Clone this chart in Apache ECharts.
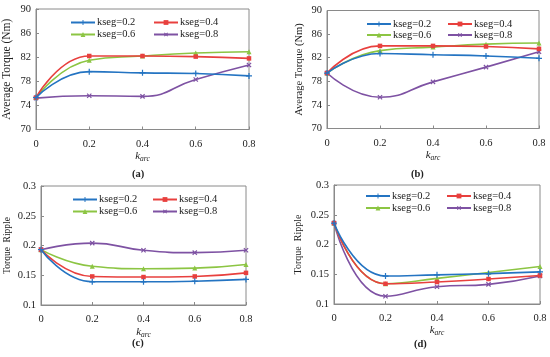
<!DOCTYPE html>
<html><head><meta charset="utf-8">
<script src="https://cdn.jsdelivr.net/npm/echarts@6/dist/echarts.min.js"></script>
<style>html,body{margin:0;padding:0;background:#fff}#c{width:550px;height:357px}</style>
</head><body><div id="c"></div>
<script>
const karc = [0, 0.2, 0.4, 0.6, 0.8];
const seriesNames = ['kseg=0.2', 'kseg=0.4', 'kseg=0.6', 'kseg=0.8'];
// (a) Average Torque (Nm)
const a_k02 = [75.3, 79.6, 79.4, 79.3, 78.9];
const a_k04 = [75.3, 82.2, 82.2, 82.1, 81.8];
const a_k06 = [75.3, 81.5, 82.2, 82.7, 82.9];
const a_k08 = [75.2, 75.6, 75.5, 78.3, 80.7];
// (b) Average Torque (Nm)
const b_k02 = [79.4, 82.7, 82.5, 82.3, 81.9];
const b_k04 = [79.4, 84.0, 84.0, 83.9, 83.5];
const b_k06 = [79.4, 83.2, 83.8, 84.3, 84.5];
const b_k08 = [79.4, 75.3, 77.9, 80.4, 83.0];
// (c) Torque Ripple
const c_k02 = [0.193, 0.139, 0.139, 0.140, 0.143];
const c_k04 = [0.193, 0.148, 0.147, 0.148, 0.154];
const c_k06 = [0.193, 0.165, 0.161, 0.162, 0.168];
const c_k08 = [0.193, 0.204, 0.192, 0.188, 0.192];
// (d) Torque Ripple
const d_k02 = [0.236, 0.147, 0.149, 0.151, 0.154];
const d_k04 = [0.236, 0.134, 0.137, 0.142, 0.148];
const d_k06 = [0.236, 0.134, 0.143, 0.153, 0.163];
const d_k08 = [0.236, 0.113, 0.129, 0.133, 0.147];
// tick labels
const xTicks = [0, 0.2, 0.4, 0.6, 0.8];
const torqueTicks = [70, 74, 78, 82, 86, 90];
const rippleTicks = [0.1, 0.15, 0.2, 0.25, 0.3];

const panels = [
  {data: [a_k02, a_k04, a_k06, a_k08], yName: 'Average Torque (Nm)', ticks: torqueTicks, cap: '(a)'},
  {data: [b_k02, b_k04, b_k06, b_k08], yName: 'Average Torque (Nm)', ticks: torqueTicks, cap: '(b)'},
  {data: [c_k02, c_k04, c_k06, c_k08], yName: 'Torque  Ripple', ticks: rippleTicks, cap: '(c)'},
  {data: [d_k02, d_k04, d_k06, d_k08], yName: 'Torque  Ripple', ticks: rippleTicks, cap: '(d)'}
];

// layout (styles, not data)
const grids = [
  {left: 32, top: 9, width: 217, height: 120.5},
  {left: 327, top: 10.5, width: 212, height: 118},
  {left: 41, top: 186, width: 205, height: 119},
  {left: 334, top: 185, width: 206, height: 119}
];
const yNameGap = [23, 22, 29, 31];
const yNameSize = [11.5, 10.5, 9.5, 10];
const xNameGap = [20, 20, 20, 19];
const legendPos = [
  {c1: 70, c2: 153, r1: 17, r2: 29},
  {c1: 366, c2: 447, r1: 18.5, r2: 29.5},
  {c1: 72, c2: 152, r1: 194, r2: 206},
  {c1: 365, c2: 446, r1: 190.5, r2: 202.5}
];
const captions = [[140, 175], [419, 175], [140, 344], [422, 345]];

const colors = ['#2474C2', '#E8403E', '#8CC543', '#7E52A3'];
const plus = 'path://M4,0h2v4h4v2h-4v4h-2v-4h-4v-2h4z';
const symbols = [plus, 'rect', 'triangle', plus];
const symRot = [0, 0, 0, 45];
const symSize = [6, 4.5, 5, 6];
const serif = '"Liberation Serif","Times New Roman",serif';
const gray = '#8a8a8a';

const option = {animation: false, grid: [], xAxis: [], yAxis: [], series: [], legend: [], graphic: []};
panels.forEach((p, i) => {
  option.grid.push(Object.assign({show: true, borderColor: gray, borderWidth: 1, containLabel: false}, grids[i]));
  option.xAxis.push({
    type: 'value', gridIndex: i, min: 0, max: 0.8, interval: 0.2,
    name: '{k|k}{s|arc}', nameLocation: 'middle', nameGap: xNameGap[i],
    nameTextStyle: {rich: {
      k: {fontFamily: serif, fontStyle: 'italic', fontSize: 11, color: '#222'},
      s: {fontFamily: serif, fontStyle: 'italic', fontSize: 7.5, color: '#222', padding: [6, 0, 0, 0]}
    }},
    axisLine: {show: true, lineStyle: {color: gray}},
    axisTick: {show: true, inside: true, length: 3, lineStyle: {color: gray}},
    axisLabel: {fontFamily: serif, fontSize: 10.5, color: '#222', margin: 9},
    splitLine: {show: false}
  });
  option.yAxis.push({
    type: 'value', gridIndex: i, min: p.ticks[0], max: p.ticks[p.ticks.length - 1],
    name: p.yName, nameLocation: 'middle', nameGap: yNameGap[i],
    nameTextStyle: {fontFamily: serif, fontSize: yNameSize[i], color: '#222'},
    axisLine: {show: true, lineStyle: {color: gray}},
    axisTick: {show: true, inside: true, length: 3, lineStyle: {color: gray}, customValues: p.ticks},
    axisLabel: {fontFamily: serif, fontSize: 10.5, color: '#222', margin: 5, customValues: p.ticks},
    splitLine: {show: false}
  });
  p.data.forEach((vals, k) => {
    option.series.push({
      type: 'line', name: seriesNames[k], xAxisIndex: i, yAxisIndex: i,
      data: karc.map((x, j) => [x, vals[j]]),
      smooth: 0.5, color: colors[k],
      symbol: symbols[k], symbolRotate: symRot[k], symbolSize: symSize[k], showSymbol: true,
      itemStyle: {color: colors[k]},
      lineStyle: {width: 1.6, color: colors[k]},
      z: 10 - k
    });
  });
  const lp = legendPos[i];
  const spots = [[lp.c1, lp.r1], [lp.c2, lp.r1], [lp.c1, lp.r2], [lp.c2, lp.r2]];
  seriesNames.forEach((nm, k) => {
    option.legend.push({
      data: [nm], left: spots[k][0], top: spots[k][1], padding: 0,
      itemWidth: 24, itemHeight: 6, selectedMode: false,
      textStyle: {fontFamily: serif, fontSize: 10.5, color: '#222', padding: [0, 0, 0, -3]}
    });
  });
  option.graphic.push({
    type: 'text', left: captions[i][0] - 8, top: captions[i][1] - 6,
    style: {text: p.cap, font: 'bold 10.5px ' + serif, fill: '#222'}
  });
});
const chart = echarts.init(document.getElementById('c'), null, {renderer: 'canvas'});
chart.setOption(option);
</script></body></html>
